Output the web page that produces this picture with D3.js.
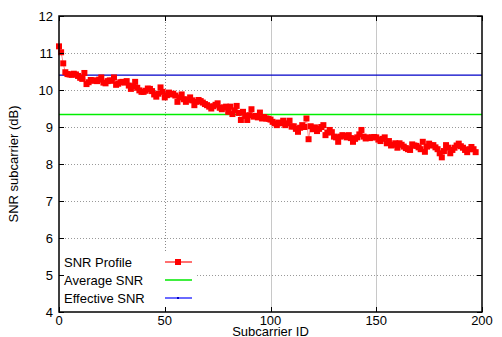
<!DOCTYPE html>
<html>
<head>
<meta charset="utf-8">
<script src="https://cdn.jsdelivr.net/npm/d3@7"></script>
<style>
  html, body { margin: 0; padding: 0; background: #fff; }
  svg { display: block; }
  text { font-family: "Liberation Sans", Arial, Helvetica, sans-serif; }
</style>
</head>
<body>
<svg id="chart" width="502" height="337"></svg>
<script>
// ---------------- data ----------------
const snrProfile = [
  11.18, 11.02, 10.72, 10.48, 10.43, 10.42, 10.41, 10.44, 10.42, 10.38,
  10.33, 10.30, 10.46, 10.16, 10.21, 10.27, 10.25, 10.26, 10.24, 10.28,
  10.34, 10.20, 10.18, 10.24, 10.26, 10.25, 10.34, 10.14, 10.17, 10.21,
  10.22, 10.20, 10.24, 10.12, 10.03, 10.10, 10.22, 10.06, 9.99, 9.95,
  9.95, 9.98, 10.04, 10.03, 9.97, 9.88, 9.82, 9.90, 10.07, 9.95,
  9.80, 9.86, 9.93, 9.88, 9.90, 9.85, 9.68, 9.80, 9.88, 9.75,
  9.68, 9.74, 9.80, 9.72, 9.59, 9.68, 9.73, 9.70, 9.66, 9.62,
  9.59, 9.55, 9.50, 9.56, 9.60, 9.64, 9.52, 9.48, 9.53, 9.55,
  9.41, 9.55, 9.35, 9.45, 9.57, 9.38, 9.19, 9.41, 9.30, 9.19,
  9.32, 9.48, 9.28, 9.30, 9.26, 9.39, 9.23, 9.27, 9.23, 9.22,
  9.20, 9.14, 9.10, 9.05, 9.12, 9.10, 9.17, 9.05, 9.10, 9.17,
  9.01, 9.02, 8.95, 8.87, 8.98, 9.05, 9.00, 9.23, 8.67, 9.02,
  8.94, 8.99, 8.89, 8.95, 9.00, 9.05, 8.78, 8.85, 8.92, 8.86,
  8.74, 8.72, 8.60, 8.74, 8.78, 8.76, 8.72, 8.78, 8.70, 8.60,
  8.68, 8.72, 8.80, 8.92, 8.74, 8.69, 8.72, 8.70, 8.72, 8.73,
  8.72, 8.66, 8.62, 8.68, 8.72, 8.56, 8.62, 8.50, 8.52, 8.56,
  8.44, 8.56, 8.52, 8.47, 8.43, 8.40, 8.38, 8.53, 8.50, 8.49,
  8.45, 8.40, 8.60, 8.33, 8.47, 8.55, 8.50, 8.51, 8.45, 8.40,
  8.29, 8.18, 8.35, 8.51, 8.44, 8.29, 8.38, 8.44, 8.50, 8.55,
  8.48, 8.44, 8.38, 8.32, 8.40, 8.46, 8.40, 8.32
];
const averageSNR = 9.34;
const effectiveSNR = 10.40;
const xTicks = [0, 50, 100, 150, 200];
const yTicks = [4, 5, 6, 7, 8, 9, 10, 11, 12];
const legendLabels = ["SNR Profile", "Average SNR", "Effective SNR"];
const xTitle = "Subcarrier ID";
const yTitle = "SNR subcarrier (dB)";

// ---------------- layout ----------------
const L = 59, R = 482, T = 16, B = 312;
const svg = d3.select("#chart");
const x = d3.scaleLinear().domain([0, 200]).range([L, R]);
const y = d3.scaleLinear().domain([4, 12]).range([B, T]);

// grid
const grid = svg.append("g");
yTicks.filter(v => v > 4 && v < 12).forEach(v => {
  grid.append("line")
    .attr("x1", v === 5 ? 197 : L).attr("x2", R)
    .attr("y1", Math.round(y(v)) + 0.5).attr("y2", Math.round(y(v)) + 0.5)
    .attr("stroke", "#999").attr("stroke-width", 1)
    .attr("stroke-dasharray", "1,2");
});
xTicks.filter(v => v > 0 && v < 200).forEach(v => {
  const g = grid.append("line")
    .attr("x1", Math.round(x(v)) + 0.5).attr("x2", Math.round(x(v)) + 0.5)
    .attr("y1", T).attr("y2", v === 50 ? 253 : B)
    .attr("stroke-width", 1);
  if (v === 50) g.attr("stroke", "#888").attr("stroke-dasharray", "1,2");
  else g.attr("stroke", "#c8c8c8");
});

// reference lines
svg.append("line")
  .attr("x1", L).attr("x2", R)
  .attr("y1", y(effectiveSNR)).attr("y2", y(effectiveSNR))
  .attr("stroke", "#0000c8").attr("stroke-width", 1.2);
svg.append("line")
  .attr("x1", L).attr("x2", R)
  .attr("y1", y(averageSNR)).attr("y2", y(averageSNR))
  .attr("stroke", "#00ee00").attr("stroke-width", 1.5);

// SNR profile line + markers
const pts = snrProfile.map((v, i) => [i, v]);
svg.append("path")
  .datum(pts)
  .attr("fill", "none")
  .attr("stroke", "#ff8c8c")
  .attr("stroke-width", 1)
  .attr("d", d3.line().x(d => x(d[0])).y(d => y(d[1])));
svg.append("g").selectAll("rect")
  .data(pts).join("rect")
  .attr("x", d => x(d[0]) - 3)
  .attr("y", d => y(d[1]) - 3)
  .attr("width", 6).attr("height", 6)
  .attr("fill", "#ff0000");

// legend (white box)
svg.append("rect")
  .attr("x", L + 1).attr("y", 254).attr("width", 137).attr("height", B - 255)
  .attr("fill", "#fff");
const lg = svg.append("g");
const legendColors = ["#ff7070", "#40ee40", "#6a6aff"];
legendLabels.forEach((lab, i) => {
  const cy = 262 + i * 18;
  lg.append("text").attr("x", 64).attr("y", cy).attr("dy", "0.35em")
    .attr("font-size", 13).attr("fill", "#000").text(lab);
  lg.append("line").attr("x1", 165).attr("x2", 192)
    .attr("y1", cy).attr("y2", cy)
    .attr("stroke", legendColors[i]).attr("stroke-width", 2);
  if (i === 0) {
    lg.append("rect").attr("x", 175).attr("y", cy - 3).attr("width", 6).attr("height", 6)
      .attr("fill", "#ff0000");
  }
  if (i === 2) {
    lg.append("rect").attr("x", 177).attr("y", cy - 1).attr("width", 2).attr("height", 2)
      .attr("fill", "#0000c8");
  }
});

// frame
svg.append("rect")
  .attr("x", L).attr("y", T).attr("width", R - L).attr("height", B - T)
  .attr("fill", "none").attr("stroke", "#000").attr("stroke-width", 1.5);

// ticks (inward, mirrored)
const tk = svg.append("g").attr("stroke", "#000").attr("stroke-width", 1);
yTicks.forEach(v => {
  const yy = Math.round(y(v)) + 0.5;
  tk.append("line").attr("x1", L).attr("x2", L + 5).attr("y1", yy).attr("y2", yy);
  tk.append("line").attr("x1", R).attr("x2", R - 5).attr("y1", yy).attr("y2", yy);
});
xTicks.forEach(v => {
  const xx = Math.round(x(v)) + 0.5;
  tk.append("line").attr("x1", xx).attr("x2", xx).attr("y1", B).attr("y2", B - 5);
  tk.append("line").attr("x1", xx).attr("x2", xx).attr("y1", T).attr("y2", T + 5);
});

// tick labels
svg.append("g").selectAll("text").data(yTicks).join("text")
  .attr("x", 53).attr("y", d => y(d)).attr("dy", "0.36em")
  .attr("text-anchor", "end").attr("font-size", 13).text(d => d);
svg.append("g").selectAll("text").data(xTicks).join("text")
  .attr("x", d => x(d)).attr("y", 325)
  .attr("text-anchor", "middle").attr("font-size", 13).text(d => d);

// titles
svg.append("text")
  .attr("x", (L + R) / 2).attr("y", 336)
  .attr("text-anchor", "middle").attr("font-size", 13).text(xTitle);
svg.append("text")
  .attr("transform", `translate(18,${(T + B) / 2}) rotate(-90)`)
  .attr("text-anchor", "middle").attr("font-size", 13).text(yTitle);
</script>
</body>
</html>
